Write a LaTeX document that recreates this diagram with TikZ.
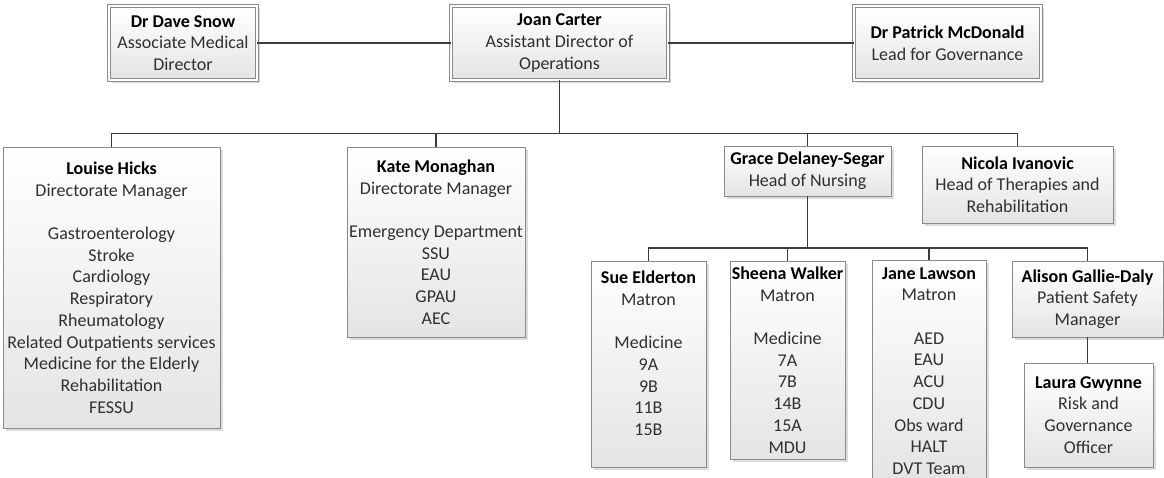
\documentclass[tikz,border=0pt]{standalone}
\usepackage{fontspec}
\setmainfont{Carlito}
\usetikzlibrary{shadows,calc}
\definecolor{boxline}{HTML}{8A8A8A}
\definecolor{wire}{HTML}{3C3C3C}
\definecolor{bodytext}{HTML}{303030}
\definecolor{boxbottom}{HTML}{E4E4E4}
\newcommand{\nm}[1]{\textcolor{black}{\textbf{#1}}}
\newcommand{\gap}{\\[21.7pt]}
\tikzset{
  orgbox/.style={rectangle, draw=boxline, line width=0.9pt,
    top color=white, bottom color=boxbottom,
    inner sep=0pt, outer sep=0pt, align=center,
    text=bodytext,
    font=\fontsize{18}{21.7}\selectfont,
    drop shadow={shadow xshift=2.5pt, shadow yshift=-2.5pt, opacity=0.28, fill=gray}},
  topbox/.style={orgbox, double=white, double distance=1.8pt, line width=0.8pt},
  wireline/.style={draw=wire, line width=1.5pt}
}
\begin{document}
\begin{tikzpicture}[x=1pt, y=-1pt]
\useasboundingbox (0,0) rectangle (1164,477);
\clip (0,0) rectangle (1164,477);

% top row
\node[topbox, minimum width=148pt, minimum height=74pt] (snow) at (183,43)
  {\nm{Dr Dave Snow}\\Associate Medical\\Director};
\node[topbox, minimum width=217pt, minimum height=74pt] (carter) at (559.5,43)
  {\nm{Joan Carter}\\Assistant Director of\\Operations};
\node[topbox, minimum width=187pt, minimum height=74pt] (mcdonald) at (947.5,43)
  {\nm{Dr Patrick McDonald}\\Lead for Governance};

% second row
\node[orgbox, minimum width=217pt, minimum height=281pt] (hicks) at (111.5,287.5)
  {\nm{Louise Hicks}\\Directorate Manager\gap Gastroenterology\\Stroke\\Cardiology\\Respiratory\\Rheumatology\\Related Outpatients services\\Medicine for the Elderly\\Rehabilitation\\FESSU};
\node[orgbox, minimum width=178pt, minimum height=190pt] (monaghan) at (436,242)
  {\nm{Kate Monaghan}\\Directorate Manager\gap Emergency Department\\SSU\\EAU\\GPAU\\AEC};
\node[orgbox, minimum width=167pt, minimum height=50pt] (delaney) at (807.5,171)
  {\nm{Grace Delaney-Segar}\\Head of Nursing};
\node[orgbox, minimum width=191pt, minimum height=77pt] (ivanovic) at (1017.5,184.5)
  {\nm{Nicola Ivanovic}\\Head of Therapies and\\Rehabilitation};

% third row
\node[orgbox, minimum width=115pt, minimum height=206pt] (elderton) at (648.5,364)
  {\nm{Sue Elderton}\\Matron\gap Medicine\\9A\\9B\\11B\\15B\\\mbox{}};
\node[orgbox, minimum width=115pt, minimum height=198pt] (walker) at (787.5,360)
  {\nm{Sheena Walker}\\Matron\gap Medicine\\7A\\7B\\14B\\15A\\MDU};
\node[orgbox, minimum width=114pt, minimum height=222pt] (lawson) at (929,371)
  {\nm{Jane Lawson}\\Matron\gap AED\\EAU\\ACU\\CDU\\Obs ward\\HALT\\DVT Team};
\node[orgbox, minimum width=151pt, minimum height=76pt] (gallie) at (1087.5,299)
  {\nm{Alison Gallie-Daly}\\Patient Safety\\Manager};
\node[orgbox, minimum width=129pt, minimum height=104pt] (gwynne) at (1088.5,415)
  {\nm{Laura Gwynne}\\Risk and\\Governance\\Officer};

% connectors
\coordinate (busA) at (559.5,133.5);
\coordinate (busB) at (807.5,248);
\draw[wireline] (snow.east) -- (carter.west);
\draw[wireline] (carter.east) -- (mcdonald.west);
\draw[wireline] (carter.south) -- (busA);
\draw[wireline] (busA) -| (hicks.north);
\draw[wireline] (busA) -| (monaghan.north);
\draw[wireline] (busA) -| (delaney.north);
\draw[wireline] (busA) -| (ivanovic.north);
\draw[wireline] (delaney.south) -- (busB);
\draw[wireline] (busB) -| (elderton.north);
\draw[wireline] (busB) -| (walker.north);
\draw[wireline] (busB) -| (lawson.north);
\draw[wireline] (busB) -| (gallie.north);
\draw[wireline] (gallie.south) -- (gallie.south |- gwynne.north);
\end{tikzpicture}
\end{document}
